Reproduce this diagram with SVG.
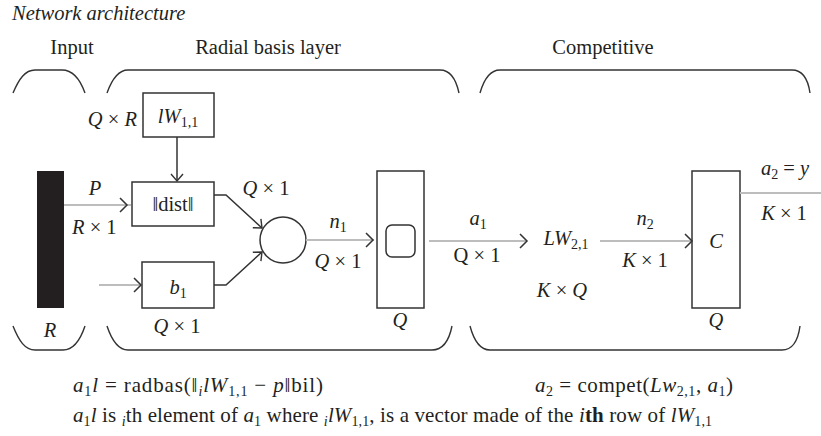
<svg xmlns="http://www.w3.org/2000/svg" width="821" height="436" viewBox="0 0 821 436">
<defs>
<style>
text{font-family:"Liberation Serif","DejaVu Serif",serif;font-size:20.5px;fill:#231f20}
.it{font-style:italic}
.sub{font-size:14px}
.f{font-size:21px}
.blk{fill:none;stroke:#333;stroke-width:1.5}
.gry{fill:none;stroke:#bdbdbd;stroke-width:2}
.brace{fill:none;stroke:#333;stroke-width:1.4}
</style>
<marker id="chev" markerUnits="userSpaceOnUse" markerWidth="12" markerHeight="14" refX="8" refY="7" orient="auto">
<path d="M1,1 L8,7 L1,13" fill="none" stroke="#333" stroke-width="1.4"/>
</marker>
</defs>
<rect width="821" height="436" fill="#fff"/>

<text x="12" y="20" class="it">Network architecture</text>
<text x="72" y="54" text-anchor="middle">Input</text>
<text x="268" y="54" text-anchor="middle">Radial basis layer</text>
<text x="603" y="54" text-anchor="middle">Competitive</text>

<g id="braces">
<path class="brace" d="M13,93 C19,79 25,70 35,70 L62,70 C73,70 80,79 85,93"/>
<path class="brace" d="M107,93 C112,79 118,70 128,70 L440,70 C450,70 456,79 459,93"/>
<path class="brace" d="M480,93 C484,79 490,70 500,70 L792,70 C802,70 808,79 810,93"/>
<path class="brace" d="M13,326 C19,341 25,350 35,350 L63,350 C73,350 80,341 85,326"/>
<path class="brace" d="M107,326 C112,341 118,350 128,350 L432,350 C442,350 449,341 452,326"/>
<path class="brace" d="M470,326 C474,341 480,350 490,350 L782,350 C792,350 798,341 800,326"/>
</g>

<g id="input">
<rect x="37" y="171" width="27" height="137" fill="#231f20"/>
<text x="50" y="337" text-anchor="middle" class="it">R</text>
</g>

<g id="lw11">
<rect x="143" y="93" width="71" height="44" class="blk" fill="#fff"/>
<text x="178" y="123" text-anchor="middle"><tspan class="it">lW</tspan><tspan class="sub" dy="4">1,1</tspan></text>
<text x="137" y="126" text-anchor="end"><tspan class="it">Q</tspan> × <tspan class="it">R</tspan></text>
</g>

<g id="dist">
<rect x="132" y="182" width="82" height="44" class="blk"/>
<text x="173" y="211" text-anchor="middle">‖dist‖</text>
</g>

<g id="b1">
<rect x="142" y="262" width="72" height="46" class="blk"/>
<text x="178" y="294" text-anchor="middle"><tspan class="it">b</tspan><tspan class="sub" dy="4">1</tspan></text>
<text x="177" y="333" text-anchor="middle"><tspan class="it">Q</tspan> × 1</text>
</g>

<g id="sum">
<circle cx="283" cy="240" r="23" class="blk"/>
</g>

<g id="radbas">
<rect x="377" y="171" width="47" height="137" class="blk"/>
<rect x="386" y="225" width="29" height="32" rx="6" class="blk"/>
<text x="400" y="327" text-anchor="middle" class="it">Q</text>
</g>

<g id="lw21">
<text x="566" y="245" text-anchor="middle"><tspan class="it">LW</tspan><tspan class="sub" dy="4">2,1</tspan></text>
<text x="562" y="297" text-anchor="middle"><tspan class="it">K</tspan> × <tspan class="it">Q</tspan></text>
</g>

<g id="compet">
<rect x="692" y="171" width="48" height="137" class="blk"/>
<text x="716" y="248" text-anchor="middle" class="it">C</text>
<text x="716" y="327" text-anchor="middle" class="it">Q</text>
</g>

<g id="connectors">
<line x1="64" y1="205" x2="131" y2="205" class="gry"/>
<path d="M120,198 L127,205 L120,212" class="blk" stroke-width="1.2"/>
<line x1="99" y1="285" x2="141" y2="285" class="gry"/>
<path d="M134,278 L141,285 L134,292" class="blk" stroke-width="1.2"/>
<line x1="177" y1="137" x2="177" y2="181" class="blk" marker-end="url(#chev)"/>
<path d="M214,195 L226,195 L262,228" class="blk" marker-end="url(#chev)"/>
<path d="M214,285 L226,285 L262,252" class="blk" marker-end="url(#chev)"/>
<line x1="306" y1="240" x2="374" y2="240" class="gry"/>
<path d="M366,233 L373,240 L366,247" class="blk" stroke-width="1.2"/>
<line x1="429" y1="241" x2="527" y2="241" class="gry"/>
<path d="M520,234 L527,241 L520,248" class="blk" stroke-width="1.2"/>
<line x1="600" y1="241" x2="692" y2="241" class="gry"/>
<path d="M685,234 L692,241 L685,248" class="blk" stroke-width="1.2"/>
<line x1="740" y1="193" x2="821" y2="193" class="gry"/>
</g>

<g id="labels">
<text x="95" y="195" text-anchor="middle" class="it">P</text>
<text x="72" y="234"><tspan class="it">R</tspan> × 1</text>
<text x="266" y="195" text-anchor="middle"><tspan class="it">Q</tspan> × 1</text>
<text x="338" y="228" text-anchor="middle"><tspan class="it">n</tspan><tspan class="sub" dy="4">1</tspan></text>
<text x="338" y="268" text-anchor="middle"><tspan class="it">Q</tspan> × 1</text>
<text x="478" y="225" text-anchor="middle"><tspan class="it">a</tspan><tspan class="sub" dy="4">1</tspan></text>
<text x="477" y="262" text-anchor="middle">Q × 1</text>
<text x="645" y="225" text-anchor="middle"><tspan class="it">n</tspan><tspan class="sub" dy="4">2</tspan></text>
<text x="645" y="267" text-anchor="middle"><tspan class="it">K</tspan> × 1</text>
<text x="785" y="175" text-anchor="middle"><tspan class="it">a</tspan><tspan class="sub" dy="4">2</tspan><tspan dy="-4"> = </tspan><tspan class="it">y</tspan></text>
<text x="784" y="220" text-anchor="middle"><tspan class="it">K</tspan> × 1</text>
</g>

<g id="formulas">
<text x="73" y="392" class="f" textLength="250" lengthAdjust="spacing"><tspan class="it">a</tspan><tspan class="sub" dy="4">1</tspan><tspan class="it" dy="-4">l</tspan> = radbas(‖<tspan class="sub it" dy="4">i</tspan><tspan class="it" dy="-4">lW</tspan><tspan class="sub" dy="4">1,1</tspan><tspan dy="-4"> − </tspan><tspan class="it">p</tspan>‖bil)</text>
<text x="535" y="392" class="f" textLength="198" lengthAdjust="spacing"><tspan class="it">a</tspan><tspan class="sub" dy="4">2</tspan><tspan dy="-4"> = compet(</tspan><tspan class="it">Lw</tspan><tspan class="sub" dy="4">2,1</tspan><tspan dy="-4">, </tspan><tspan class="it">a</tspan><tspan class="sub" dy="4">1</tspan><tspan dy="-4">)</tspan></text>
<text x="73" y="422" class="f" textLength="639" lengthAdjust="spacing"><tspan class="it">a</tspan><tspan class="sub" dy="4">1</tspan><tspan class="it" dy="-4">l</tspan> is <tspan class="sub it" dy="4">i</tspan><tspan dy="-4">th element of </tspan><tspan class="it">a</tspan><tspan class="sub" dy="4">1</tspan><tspan dy="-4"> where </tspan><tspan class="sub it" dy="4">i</tspan><tspan class="it" dy="-4">lW</tspan><tspan class="sub" dy="4">1,1</tspan><tspan dy="-4">, is a vector made of the </tspan><tspan class="it">i</tspan><tspan font-weight="bold">th</tspan> row of <tspan class="it">lW</tspan><tspan class="sub" dy="4">1,1</tspan></text>
</g>
</svg>
